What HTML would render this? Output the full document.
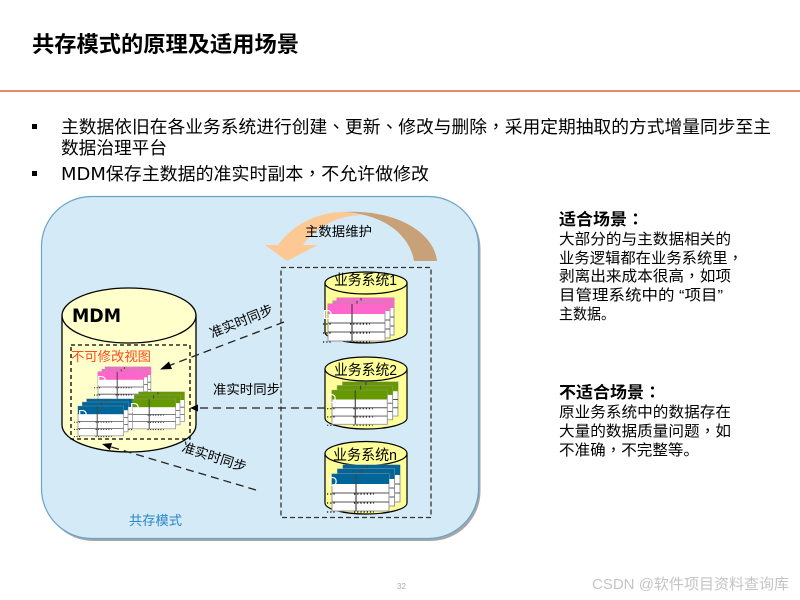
<!DOCTYPE html>
<html lang="zh">
<head>
<meta charset="utf-8">
<style>
html,body{margin:0;padding:0;background:#fff;width:800px;height:600px;overflow:hidden}
svg{display:block}
text{font-family:"Liberation Sans","Noto Sans CJK SC",sans-serif;fill:#000}
.p{font-family:"Liberation Sans","Noto Sans CJK TC",sans-serif}
.d{font-family:"DejaVu Sans",sans-serif}
</style>
</head>
<body>
<svg width="800" height="600" viewBox="0 0 800 600" xmlns="http://www.w3.org/2000/svg">
<defs>
<g id="t">
  <rect x="0" y="0" width="57" height="37" fill="#fff" stroke="#999" stroke-width="1"/>
  <rect x="0" y="0" width="57" height="10" fill="currentColor"/>
  <path d="M0 19H57M0 28H57" stroke="#555" stroke-width="1"/>
  <path d="M24 0V37" stroke="#444" stroke-width="1.200"/>
  <path d="M-5 20H3M22 20H42M-5 29H3M22 29H42M-5 38H3M22 38H42" stroke="#000" stroke-width="1.200" stroke-dasharray="1.200 2"/>
</g>
<g id="s">
  <use href="#t" x="9" y="0"/>
  <use href="#t" x="5" y="3"/>
  <use href="#t" x="0" y="6"/>
</g>
<g id="s2">
  <use href="#t" x="11" y="0"/>
  <use href="#t" x="5.500" y="4"/>
  <use href="#t" x="0" y="9"/>
</g>
</defs>

<text x="32" y="52" font-size="22" font-weight="bold" textLength="267" lengthAdjust="spacingAndGlyphs">共存模式的原理及适用场景</text>
<rect x="0" y="90" width="800" height="2" fill="#e8866a"/>

<rect x="32" y="124" width="5" height="5" fill="#000"/>
<rect x="32" y="171" width="5" height="5" fill="#000"/>
<text x="61" y="133" font-size="17.500" fill="#111" textLength="710" lengthAdjust="spacingAndGlyphs">主数据依旧在各业务系统进行创建<tspan class="p" lang="zh-TW">、</tspan>更新<tspan class="p" lang="zh-TW">、</tspan>修改与删除<tspan class="p" lang="zh-TW">，</tspan>采用定期抽取的方式增量同步至主</text>
<text x="61" y="154" font-size="17.500" textLength="106" lengthAdjust="spacingAndGlyphs">数据治理平台</text>
<text x="61" y="180" font-size="17.500" textLength="368" lengthAdjust="spacingAndGlyphs"><tspan class="d">MDM</tspan>保存主数据的准实时副本<tspan class="p" lang="zh-TW">，</tspan>不允许做修改</text>

<rect x="43.500" y="199" width="437" height="342" rx="50" fill="#a6a6a6"/>
<rect x="41.500" y="196.500" width="437" height="342" rx="50" fill="#d4eaf6" stroke="#68a4c8" stroke-width="1.200"/>

<!-- curved arrow -->
<path d="M278 245C292 226 315 212 345 212L362 215C335 216 315 228 303 245H318L287 261L265 245Z" fill="#fcc995"/>
<path d="M343 212C395 209 434 232 437 261H414C410 236 385 214 343 212Z" fill="#c9a178"/>
<text x="305" y="236" font-size="13.300" textLength="67" lengthAdjust="spacingAndGlyphs">主数据维护</text>

<!-- MDM cylinder -->
<path d="M62 315.500V425C62 440 92 452 129 452S196 440 196 425V315.500Z" fill="#ffffcc" stroke="#000" stroke-width="1.300"/>
<ellipse cx="129" cy="315.500" rx="67" ry="27.500" fill="#ffffcc" stroke="#000" stroke-width="1.300"/>
<text x="72" y="322" class="d" font-size="19" font-weight="bold" textLength="49" lengthAdjust="spacingAndGlyphs">MDM</text>
<rect x="71" y="345" width="119" height="94" fill="none" stroke="#000" stroke-width="1.300" stroke-dasharray="4 3"/>
<text x="71" y="361" font-size="13.300" style="fill:#ff4a1c" textLength="80" lengthAdjust="spacingAndGlyphs">不可修改视图</text>

<use href="#s" transform="translate(98,367) scale(.8)" color="#ff66cc"/>
<use href="#s2" transform="translate(130,392) scale(.8)" color="#669900"/>
<use href="#s2" transform="translate(78,399) scale(.8)" color="#006699"/>
<text x="97" y="385" font-size="13" style="fill:#fff">D</text>
<text x="78" y="419" font-size="13" style="fill:#fff">D</text>
<text x="130" y="412" font-size="13" style="fill:#fff">D</text>

<!-- big dashed box -->
<rect x="281" y="267.500" width="150" height="250" fill="none" stroke="#333" stroke-width="1.300" stroke-dasharray="5 3"/>

<!-- System cylinders -->
<path d="M325 283V332C325 338 343 343 366 343S407 338 407 332V283Z" fill="#ffff99" stroke="#000" stroke-width="1.200"/>
<ellipse cx="366" cy="283" rx="41" ry="11" fill="#ffff99" stroke="#000" stroke-width="1.200"/>
<text x="334" y="285" font-size="14.500" textLength="63" lengthAdjust="spacingAndGlyphs">业务系统1</text>
<use href="#s" transform="translate(328,298)" color="#ff66cc"/>
<text x="323" y="319" font-size="13" style="fill:#fff">D</text>

<path d="M325 369V418C325 424 343 429 366 429S407 424 407 418V369Z" fill="#ffff99" stroke="#000" stroke-width="1.200"/>
<ellipse cx="366" cy="369" rx="41" ry="12" fill="#ffff99" stroke="#000" stroke-width="1.200"/>
<text x="334" y="375" font-size="14.500" textLength="63" lengthAdjust="spacingAndGlyphs">业务系统2</text>
<use href="#s2" transform="translate(332,382) scale(.97,.92)" color="#669900"/>
<text x="327" y="403" font-size="13" style="fill:#fff">D</text>

<path d="M325 453.500V503C325 509 343 514 366 514S407 509 407 503V453.500Z" fill="#ffff99" stroke="#000" stroke-width="1.200"/>
<ellipse cx="366" cy="453.500" rx="41" ry="12" fill="#ffff99" stroke="#000" stroke-width="1.200"/>
<text x="333" y="460" font-size="14.500" textLength="64" lengthAdjust="spacingAndGlyphs">业务系统n</text>
<use href="#s2" transform="translate(332,465)" color="#006699"/>
<text x="328" y="486" font-size="13" style="fill:#fff">D</text>

<!-- connectors -->
<g stroke="#222" stroke-width="1.300" fill="none" stroke-dasharray="8 5">
  <path d="M284 322L168 366"/>
  <path d="M325 408H196"/>
  <path d="M256 490L108 446"/>
</g>
<g fill="#000">
  <path d="M160 369.500L169 361.500L172 369Z"/>
  <path d="M190 408L198 404.500V411.500Z"/>
  <path d="M102 444L112 443L110 450Z"/>
</g>
<text transform="translate(212,338) rotate(-22)" font-size="13.300" textLength="67" lengthAdjust="spacingAndGlyphs">准实时同步</text>
<text x="213" y="394" font-size="13.300" textLength="67" lengthAdjust="spacingAndGlyphs">准实时同步</text>
<text transform="translate(181,451) rotate(18)" font-size="13.300" textLength="67" lengthAdjust="spacingAndGlyphs">准实时同步</text>
<text x="129" y="525" font-size="13.300" style="fill:#2a86c8" textLength="53" lengthAdjust="spacingAndGlyphs">共存模式</text>

<!-- right column -->
<text x="559" y="225" font-size="16.500" font-weight="bold" textLength="85" lengthAdjust="spacingAndGlyphs">适合场景<tspan class="p" lang="zh-TW">：</tspan></text>
<g font-size="15">
<text x="559" y="244" textLength="172" lengthAdjust="spacingAndGlyphs">大部分的与主数据相关的</text>
<text x="559" y="263" textLength="184" lengthAdjust="spacingAndGlyphs">业务逻辑都在业务系统里<tspan class="p" lang="zh-TW">，</tspan></text>
<text x="559" y="281" textLength="172" lengthAdjust="spacingAndGlyphs">剥离出来成本很高<tspan class="p" lang="zh-TW">，</tspan>如项</text>
<text x="559" y="300" textLength="164" lengthAdjust="spacingAndGlyphs">目管理系统中的 “项目”</text>
<text x="559" y="319" textLength="56" lengthAdjust="spacingAndGlyphs">主数据。</text>
</g>
<text x="559" y="398" font-size="16.500" font-weight="bold" textLength="102" lengthAdjust="spacingAndGlyphs">不适合场景<tspan class="p" lang="zh-TW">：</tspan></text>
<g font-size="15">
<text x="559" y="417" textLength="172" lengthAdjust="spacingAndGlyphs">原业务系统中的数据存在</text>
<text x="559" y="436" textLength="172" lengthAdjust="spacingAndGlyphs">大量的数据质量问题<tspan class="p" lang="zh-TW">，</tspan>如</text>
<text x="559" y="455" textLength="140" lengthAdjust="spacingAndGlyphs">不准确<tspan class="p" lang="zh-TW">，</tspan>不完整等。</text>
</g>

<text x="397" y="589" font-size="8" style="fill:#aaa">32</text>
<text x="592" y="589" font-size="15" style="fill:#c4c4c4" textLength="197" lengthAdjust="spacingAndGlyphs">CSDN @软件项目资料查询库</text>
</svg>
</body>
</html>
